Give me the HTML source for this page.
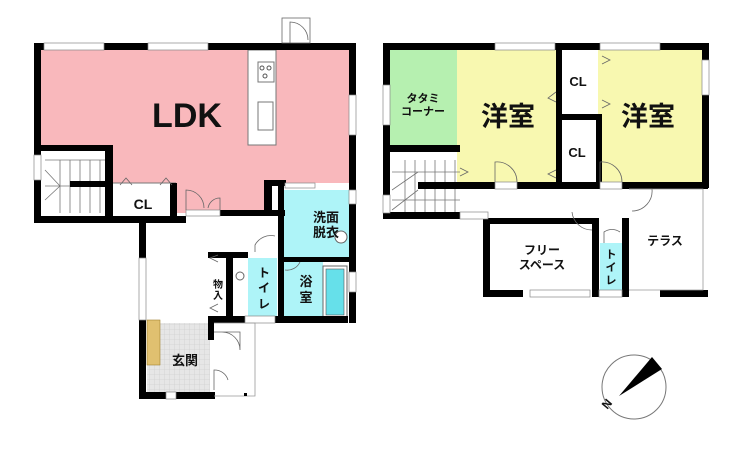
<!DOCTYPE html>
<html><head><meta charset="utf-8"><style>
html,body{margin:0;padding:0;background:#fff;}
svg{display:block;}
text{font-family:"Liberation Sans","Noto Sans CJK JP",sans-serif;font-weight:bold;fill:#111;}
</style></head><body>
<svg width="740" height="460" viewBox="0 0 740 460" xmlns="http://www.w3.org/2000/svg">
<defs>
<pattern id="grid" width="5" height="5" patternUnits="userSpaceOnUse">
<rect width="5" height="5" fill="#e6e6e6"/><path d="M5 0V5H0" fill="none" stroke="#c8c8c8" stroke-width="0.6"/>
</pattern>
</defs>
<!-- LEFT PLAN fills -->
<path d="M41 49H350V183H268V213H176V183H112V148H41Z" fill="#f9b8bc"/>
<path d="M112 183H176" stroke="#777" stroke-width="1"/>
<rect x="283" y="190" width="67" height="67" fill="#aef4f8"/>
<rect x="284" y="262" width="39" height="56" fill="#aef4f8"/>
<rect x="323" y="266" width="24" height="52" fill="#fff" stroke="#666" stroke-width="1"/>
<rect x="326" y="269" width="18" height="46" fill="#66e0ea" stroke="#555" stroke-width="0.6"/>
<rect x="248" y="258" width="29" height="60" fill="#aef4f8"/>
<rect x="147" y="323" width="63" height="70" fill="url(#grid)"/>
<rect x="147" y="320" width="13" height="45" fill="#e0c070" stroke="#a08030" stroke-width="0.6"/>
<!-- kitchen counter -->
<rect x="248" y="50" width="28" height="95" fill="#fff" stroke="#777"/>
<rect x="258" y="62" width="16" height="20" fill="#fff" stroke="#777"/>
<circle cx="262" cy="68" r="2" fill="none" stroke="#555"/><circle cx="269" cy="68" r="2" fill="none" stroke="#555"/><circle cx="265" cy="76" r="2" fill="none" stroke="#555"/>
<rect x="258" y="102" width="15" height="28" fill="#fff" stroke="#777"/>
<!-- stairs left -->
<g stroke="#777" stroke-width="0.8" fill="none">
<path d="M60 160V213M70 160V213M80 160V213M90 160V213M100 160V213M45 160H108M45 186H108M45 200L60 186M45 170L60 186"/>
</g>
<!-- walls left plan -->
<g fill="#000">
<rect x="34" y="43" width="322" height="7"/>
<rect x="34" y="43" width="7" height="180"/>
<rect x="349" y="43" width="7" height="280"/>
<rect x="34" y="216" width="152" height="7"/>
<rect x="218" y="210" width="67" height="6"/>
<rect x="105" y="145" width="8" height="78"/>
<rect x="41" y="145" width="70" height="6"/>
<rect x="70" y="181" width="40" height="6"/>
<rect x="170" y="183" width="7" height="36"/>
<rect x="264" y="180" width="8" height="36"/>
<rect x="264" y="180" width="22" height="6"/>
<rect x="278" y="186" width="6" height="137"/>
<rect x="139" y="218" width="7" height="180"/>
<rect x="139" y="392" width="76" height="7"/>
<rect x="208" y="320" width="6" height="20"/>
<rect x="208" y="252" width="40" height="6"/>
<rect x="226" y="252" width="7" height="70"/>
<rect x="208" y="316" width="140" height="7"/>
<rect x="280" y="257" width="70" height="5"/>
</g>
<!-- windows (white gaps) -->
<g fill="#fff" stroke="#888" stroke-width="0.7">
<rect x="44" y="43" width="60" height="7"/><rect x="148" y="43" width="60" height="7"/>
<rect x="349" y="95" width="7" height="40"/><rect x="139" y="258" width="7" height="62"/>
<rect x="34" y="155" width="7" height="25"/><rect x="349" y="190" width="7" height="14"/>
<rect x="349" y="272" width="7" height="20"/><rect x="285" y="183" width="30" height="5"/>
<rect x="186" y="210" width="34" height="6"/><rect x="245" y="316" width="30" height="7"/>
<rect x="166" y="392" width="10" height="7"/>
</g>
<!-- doors left -->
<g fill="none" stroke="#666" stroke-width="0.8">
<rect x="282" y="18" width="28" height="25"/><path d="M290 43V22A18 18 0 0 1 308 40"/>
<path d="M186 210V190A18 18 0 0 1 204 208M220 210V198A12 12 0 0 0 208 208"/>
<path d="M255 252V245A18 18 0 0 1 275 236"/>
<path d="M285 270A14 14 0 0 0 300 262"/>
<path d="M214 332H240V350A18 18 0 0 0 222 332M214 390V370A14 14 0 0 1 228 380"/>
<path d="M214 323H255V396H214" stroke="#999"/>
<path d="M120 185L126 178L132 185M160 185L166 178L172 185M218 262L210 258L218 255M218 312L210 308L218 304"/>
</g>
<rect x="244" y="393" width="3" height="3" fill="#000"/>
<circle cx="341" cy="237" r="6" fill="#fff" stroke="#666"/>
<circle cx="240" cy="276" r="4" fill="#fff" stroke="#666"/>
<!-- labels left -->
<text x="187" y="127" font-size="34" text-anchor="middle">LDK</text>
<text x="143" y="209" font-size="14" text-anchor="middle">CL</text>
<text x="326" y="222" font-size="13" text-anchor="middle">洗面</text>
<text x="326" y="237" font-size="13" text-anchor="middle">脱衣</text>
<text x="306" y="286" font-size="13" text-anchor="middle">浴</text>
<text x="306" y="302" font-size="13" text-anchor="middle">室</text>
<text x="264" y="277" font-size="12" text-anchor="middle">ト</text>
<text x="264" y="292" font-size="12" text-anchor="middle">イ</text>
<text x="264" y="308" font-size="12" text-anchor="middle">レ</text>
<text x="218" y="288" font-size="10" text-anchor="middle">物</text>
<text x="218" y="299" font-size="10" text-anchor="middle">入</text>
<text x="185" y="365" font-size="13" text-anchor="middle">玄関</text>

<!-- RIGHT PLAN -->
<rect x="390" y="50" width="67" height="98" fill="#b6f0b0"/>
<rect x="457" y="50" width="101" height="133" fill="#f8f8b0"/>
<rect x="598" y="50" width="105" height="133" fill="#f8f8b0"/>
<rect x="600" y="243" width="22" height="47" fill="#aef4f8"/>
<g stroke="#777" stroke-width="0.8" fill="none">
<path d="M405 160V212M415 160V212M425 160V212M435 160V212M445 160V212M455 160V212M392 172H460M392 200H460M392 190L418 172M392 210L418 190"/>
</g>
<g fill="#000">
<rect x="383" y="43" width="325" height="7"/>
<rect x="383" y="43" width="7" height="175"/>
<rect x="702" y="43" width="7" height="145"/>
<rect x="383" y="212" width="82" height="7"/>
<rect x="390" y="145" width="70" height="7"/>
<rect x="418" y="182" width="290" height="7"/>
<rect x="556" y="43" width="6" height="145"/>
<rect x="596" y="115" width="6" height="73"/>
<rect x="556" y="114" width="46" height="6"/>
<rect x="483" y="218" width="113" height="6"/>
<rect x="483" y="218" width="7" height="79"/>
<rect x="483" y="290" width="40" height="7"/>
<rect x="592" y="218" width="7" height="79"/>
<rect x="622" y="218" width="7" height="79"/>
<rect x="660" y="290" width="48" height="7"/>
</g>
<g fill="#fff" stroke="#888" stroke-width="0.7">
<rect x="495" y="43" width="60" height="7"/><rect x="600" y="43" width="60" height="7"/>
<rect x="702" y="60" width="7" height="35"/><rect x="383" y="85" width="7" height="40"/>
<rect x="383" y="195" width="7" height="18"/><rect x="460" y="212" width="28" height="7"/>
<rect x="495" y="182" width="22" height="7"/><rect x="600" y="182" width="22" height="7"/>
<rect x="530" y="290" width="60" height="7"/><rect x="599" y="290" width="23" height="7"/>
</g>
<g fill="none" stroke="#666" stroke-width="0.8">
<path d="M495 182V162A20 20 0 0 1 517 182M600 182V162A20 20 0 0 1 622 182"/>
<path d="M629 189H652A20 20 0 0 1 632 211"/>
<path d="M592 230A20 20 0 0 1 572 212"/>
<path d="M604 243V232A14 14 0 0 1 620 232"/>
<path d="M629 189H703V290H629" stroke="#999"/>
<path d="M556 92L548 98L556 102M556 170L548 174L556 178M602 56L610 60L602 64M602 100L610 104L602 108M460 168L468 172L460 176"/>
</g>
<text x="423" y="102" font-size="11" text-anchor="middle">タタミ</text>
<text x="423" y="115" font-size="11" text-anchor="middle">コーナー</text>
<text x="508" y="126" font-size="27" text-anchor="middle">洋室</text>
<text x="648" y="126" font-size="27" text-anchor="middle">洋室</text>
<text x="578" y="86" font-size="13" text-anchor="middle">CL</text>
<text x="577" y="157" font-size="13" text-anchor="middle">CL</text>
<text x="542" y="254" font-size="12" text-anchor="middle">フリー</text>
<text x="542" y="269" font-size="12" text-anchor="middle">スペース</text>
<text x="665" y="245" font-size="12" text-anchor="middle">テラス</text>
<text x="611" y="258" font-size="11" text-anchor="middle">ト</text>
<text x="611" y="271" font-size="11" text-anchor="middle">イ</text>
<text x="611" y="284" font-size="11" text-anchor="middle">レ</text>

<!-- compass -->
<circle cx="634" cy="387" r="32" fill="#fff" stroke="#777" stroke-width="1"/>
<path d="M619 396L652 357L662 369Z" fill="#000"/>
<text x="607" y="408" font-size="12" font-weight="normal" transform="rotate(-50 607 404)" text-anchor="middle">N</text>
</svg>
</body></html>
